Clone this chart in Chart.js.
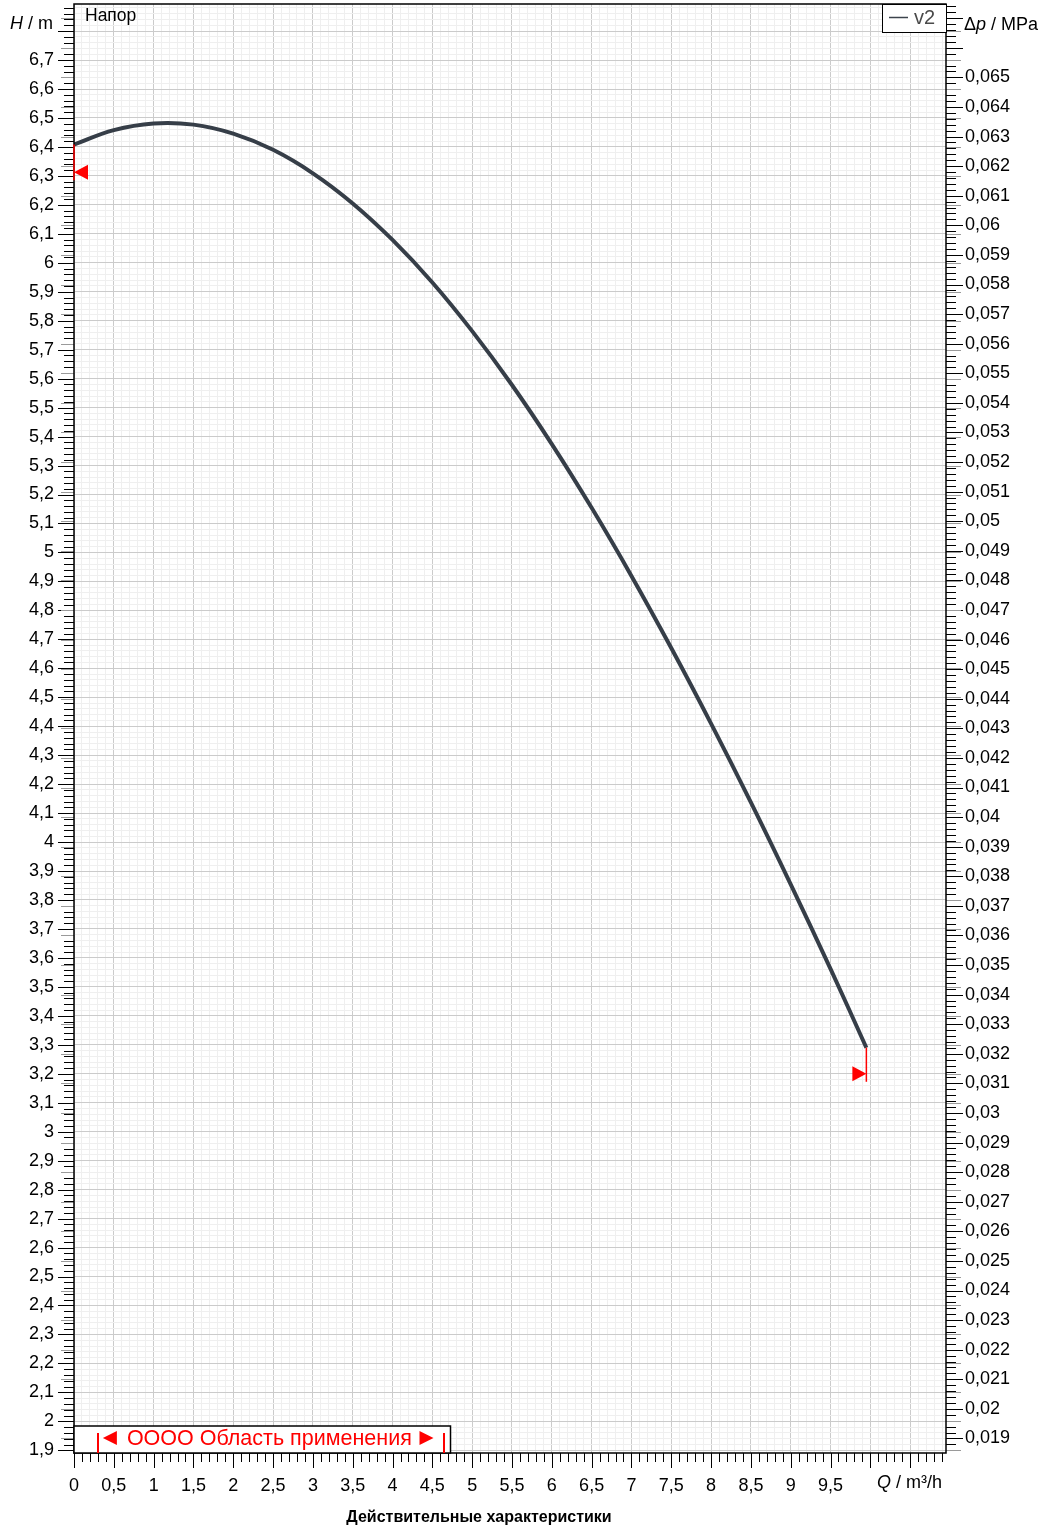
<!DOCTYPE html>
<html>
<head>
<meta charset="utf-8">
<script src="https://cdn.jsdelivr.net/npm/chart.js@4.4.1/dist/chart.umd.min.js"></script>
<style>
  html, body { margin: 0; padding: 0; background: #fff; }
  canvas { display: block; }
</style>
</head>
<body>
<canvas id="pumpChart" width="1046" height="1528"></canvas>
<script>
// Q / m³/h
var flowValues = [0, 0.5, 1, 1.5, 2, 2.5, 3, 3.5, 4, 4.5, 5, 5.5, 6, 6.5, 7, 7.5, 8, 8.5, 9, 9.5, 9.95];
// H / m for curve v2
var headValues = [6.408, 6.458, 6.481, 6.477, 6.446, 6.39, 6.309, 6.205, 6.079, 5.932, 5.764, 5.578, 5.374, 5.154, 4.919, 4.67, 4.409, 4.137, 3.854, 3.562, 3.29];
var seriesLabel = 'v2';

// red markers at the ends of the curve
var markerFlow = [0, 9.95];
var markerHead = [6.313, 3.2];

// application range (Q)
var applicationRange = [0.3, 4.64];
var applicationText = 'OOOO Область применения';

// axis ranges
var flowMin = 0, flowMax = 10.95;
var headMin = 1.8907, headMax = 6.8935;
var rhoG = 0.009789; // MPa per m

function range(from, to, step) {
    var out = [];
    var n = Math.round((to - from) / step);
    for (var i = 0; i <= n; i++) out.push(Math.round((from + i * step) * 10000) / 10000);
    return out;
}

// tick labels
var flowLabels = range(0, 9.5, 0.5);
var headLabels = range(1.9, 6.7, 0.1);
var pressureLabels = range(0.019, 0.065, 0.001);

// grid steps
var flowGrid = range(0, 10.9, 0.1);
var headGrid = range(1.9, 6.88, 0.02);

var majorGrid = '#cbcbcb';
var minorGrid = '#efefef';
var curveColor = '#363e48';
var red = '#ff0000';
var fontFamily = '"Liberation Sans", Arial, sans-serif';

function comma(v) {
    return String(parseFloat(v.toFixed(4))).replace('.', ',');
}
function isMultiple(v, step) {
    var r = v / step;
    return Math.abs(r - Math.round(r)) < 1e-6;
}
function inList(list, v) {
    for (var i = 0; i < list.length; i++) if (Math.abs(list[i] - v) < 1e-6) return true;
    return false;
}
function steps(min, max, step) {
    var out = [];
    for (var i = Math.ceil(min / step - 1e-9); i * step <= max + 1e-9; i++) out.push(i * step);
    return out;
}
function crisp(v) { return Math.round(v) + 0.5; }
function noPadding(scale) {
    scale.paddingTop = 0;
    scale.paddingBottom = 0;
    scale.paddingLeft = 0;
    scale.paddingRight = 0;
}

var extrasPlugin = {
    id: 'extras',
    afterDraw: function (chart) {
        var ctx = chart.ctx;
        var a = chart.chartArea;
        var xs = chart.scales.x, ys = chart.scales.y, ps = chart.scales.y2;
        ctx.save();

        // tick marks
        ctx.lineWidth = 1;
        function hTick(x0, len, y, color) {
            ctx.strokeStyle = color;
            ctx.beginPath();
            ctx.moveTo(x0, crisp(y));
            ctx.lineTo(x0 + len, crisp(y));
            ctx.stroke();
        }
        // left axis
        steps(headMin, headMax, 0.02).forEach(function (v) {
            var major = isMultiple(v, 0.1);
            hTick(a.left, major ? -16 : -10, ys.getPixelForValue(v), '#000');
        });
        steps(ps.min, ps.max, 0.001).forEach(function (v) {
            hTick(a.left, -13, ps.getPixelForValue(v), '#9a9a9a');
        });
        // right axis
        steps(ps.min, ps.max, 0.0002).forEach(function (v) {
            var major = isMultiple(v, 0.001);
            hTick(a.right, major ? 17 : 10, ps.getPixelForValue(v), '#000');
        });
        steps(headMin, headMax, 0.1).forEach(function (v) {
            hTick(a.right, 15, ys.getPixelForValue(v), '#9a9a9a');
        });
        // bottom axis
        ctx.strokeStyle = '#000';
        steps(flowMin, flowMax, 0.1).forEach(function (v) {
            var x = crisp(xs.getPixelForValue(v));
            var major = isMultiple(v, 0.5);
            ctx.beginPath();
            ctx.moveTo(x, a.bottom);
            ctx.lineTo(x, a.bottom + (major ? 15 : 9));
            ctx.stroke();
        });

        // plot frame
        ctx.lineWidth = 1.5;
        ctx.strokeStyle = '#000';
        ctx.strokeRect(a.left, a.top, a.right - a.left, a.bottom - a.top);

        // red end markers
        ctx.strokeStyle = red;
        ctx.fillStyle = red;
        ctx.lineWidth = 1.5;
        for (var i = 0; i < markerFlow.length; i++) {
            var mx = xs.getPixelForValue(markerFlow[i]);
            var curveH = i === 0 ? headValues[0] : headValues[headValues.length - 1];
            var yc = ys.getPixelForValue(curveH);
            var ym = ys.getPixelForValue(markerHead[i]);
            ctx.beginPath();
            ctx.moveTo(mx, yc);
            ctx.lineTo(mx, ym + 8);
            ctx.stroke();
            var dir = i === 0 ? 1 : -1;
            ctx.beginPath();
            ctx.moveTo(mx, ym);
            ctx.lineTo(mx + dir * 14, ym - 7.5);
            ctx.lineTo(mx + dir * 14, ym + 7.5);
            ctx.closePath();
            ctx.fill();
        }

        // application range box
        var b0 = xs.getPixelForValue(applicationRange[0]);
        var b1 = xs.getPixelForValue(applicationRange[1]);
        var boxTop = a.bottom - 27;
        ctx.fillStyle = '#fff';
        ctx.fillRect(a.left, boxTop, b1 + 7 - a.left, a.bottom - boxTop);
        ctx.lineWidth = 1.5;
        ctx.strokeStyle = '#000';
        ctx.strokeRect(a.left, boxTop, b1 + 7 - a.left, a.bottom - boxTop);
        ctx.strokeStyle = red;
        ctx.fillStyle = red;
        ctx.lineWidth = 2;
        [b0, b1].forEach(function (bx) {
            ctx.beginPath();
            ctx.moveTo(Math.round(bx), boxTop + 7);
            ctx.lineTo(Math.round(bx), a.bottom);
            ctx.stroke();
        });
        var ty = boxTop + 12;
        ctx.beginPath();
        ctx.moveTo(b0 + 5, ty);
        ctx.lineTo(b0 + 19, ty - 7);
        ctx.lineTo(b0 + 19, ty + 7);
        ctx.closePath();
        ctx.fill();
        ctx.beginPath();
        ctx.moveTo(b1 - 10, ty);
        ctx.lineTo(b1 - 24, ty - 7);
        ctx.lineTo(b1 - 24, ty + 7);
        ctx.closePath();
        ctx.fill();
        ctx.font = '21.5px ' + fontFamily;
        ctx.textAlign = 'left';
        ctx.textBaseline = 'middle';
        ctx.fillText(applicationText, b0 + 29, ty + 1);

        // legend box
        var lw = 64, lh = 28;
        ctx.fillStyle = '#fff';
        ctx.fillRect(a.right - lw, a.top, lw, lh);
        ctx.lineWidth = 1;
        ctx.strokeStyle = '#000';
        ctx.strokeRect(crisp(a.right - lw), crisp(a.top), lw, lh);
        ctx.strokeStyle = '#3c444d';
        ctx.lineWidth = 1.5;
        ctx.beginPath();
        ctx.moveTo(a.right - lw + 7, a.top + 13.5);
        ctx.lineTo(a.right - lw + 26, a.top + 13.5);
        ctx.stroke();
        ctx.fillStyle = '#4a4a4a';
        ctx.font = '20px ' + fontFamily;
        ctx.fillText(chart.data.datasets[0].label, a.right - lw + 32, a.top + 14);

        // texts
        ctx.fillStyle = '#000';
        ctx.font = '17.5px ' + fontFamily;
        ctx.fillText('Напор', a.left + 11, a.top + 12);

        function mixed(parts, x, y) {
            parts.forEach(function (p) {
                ctx.font = (p[1] ? 'italic ' : '') + '18px ' + fontFamily;
                ctx.fillText(p[0], x, y);
                x += ctx.measureText(p[0]).width;
            });
        }
        ctx.textBaseline = 'middle';
        mixed([['H', true], [' / m', false]], 10, 24);
        mixed([['Δ', false], ['p', true], [' / MPa', false]], a.right + 18, 25);
        mixed([['Q', true], [' / m³/h', false]], 877, a.bottom + 30);

        ctx.font = 'bold 16px ' + fontFamily;
        ctx.textAlign = 'center';
        ctx.fillText('Действительные характеристики', 479, a.bottom + 65);
        ctx.restore();
    }
};

var tickFont = { family: fontFamily, size: 18 };

new Chart(document.getElementById('pumpChart').getContext('2d'), {
    type: 'line',
    data: {
        datasets: [{
            label: seriesLabel,
            data: flowValues.map(function (q, i) { return { x: q, y: headValues[i] }; }),
            borderColor: curveColor,
            borderWidth: 4,
            pointRadius: 0,
            fill: false,
            tension: 0.4,
            yAxisID: 'y'
        }]
    },
    options: {
        responsive: false,
        animation: false,
        devicePixelRatio: 1,
        layout: { padding: { top: 4, left: 0, right: 0, bottom: 0 } },
        plugins: {
            legend: { display: false },
            tooltip: { enabled: false }
        },
        scales: {
            x: {
                type: 'linear',
                position: 'bottom',
                min: flowMin,
                max: flowMax,
                afterBuildTicks: function (scale) {
                    scale.ticks = flowGrid.map(function (v) { return { value: v }; });
                },
                afterFit: function (scale) { scale.height = 75; noPadding(scale); },
                border: { display: false },
                grid: {
                    drawTicks: false,
                    color: function (c) { return c.tick && isMultiple(c.tick.value, 0.5) ? majorGrid : minorGrid; }
                },
                ticks: {
                    autoSkip: false,
                    maxRotation: 0,
                    padding: 22,
                    color: '#000',
                    font: tickFont,
                    callback: function (v) { return inList(flowLabels, v) ? comma(v) : ''; }
                }
            },
            y: {
                type: 'linear',
                position: 'left',
                min: headMin,
                max: headMax,
                afterBuildTicks: function (scale) {
                    scale.ticks = headGrid.map(function (v) { return { value: v }; });
                },
                afterFit: function (scale) { scale.width = 74; noPadding(scale); },
                border: { display: false },
                grid: {
                    drawTicks: false,
                    color: function (c) { return c.tick && isMultiple(c.tick.value, 0.1) ? majorGrid : minorGrid; }
                },
                ticks: {
                    autoSkip: false,
                    padding: 20,
                    color: '#000',
                    font: tickFont,
                    callback: function (v) { return inList(headLabels, v) ? comma(v) : ''; }
                }
            },
            y2: {
                type: 'linear',
                position: 'right',
                min: headMin * rhoG,
                max: headMax * rhoG,
                afterBuildTicks: function (scale) {
                    scale.ticks = pressureLabels.map(function (v) { return { value: v }; });
                },
                afterFit: function (scale) { scale.width = 100; noPadding(scale); },
                border: { display: false },
                grid: { display: false, drawTicks: false },
                ticks: {
                    autoSkip: false,
                    padding: 19,
                    color: '#000',
                    font: tickFont,
                    callback: function (v) { return comma(v); }
                }
            }
        }
    },
    plugins: [extrasPlugin]
});
</script>
</body>
</html>
